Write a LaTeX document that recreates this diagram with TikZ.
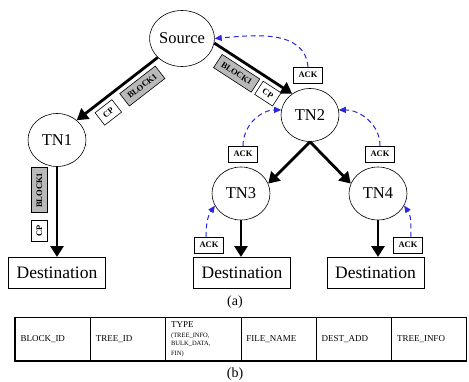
\documentclass[tikz,border=0pt]{standalone}
\usepackage{fontspec}
\setmainfont{Liberation Serif}
\usetikzlibrary{shapes.geometric,arrows.meta,positioning}
\definecolor{ackblue}{RGB}{40,40,220}

\begin{document}
\begin{tikzpicture}[x=1pt, y=1pt,
    tn/.style={ellipse, draw, line width=0.6pt, minimum width=58pt, minimum height=53pt, inner sep=0pt, font=\fontsize{16.5}{18}\selectfont},
    dest/.style={draw, line width=0.6pt, minimum width=97pt, minimum height=31pt, font=\fontsize{17.5}{19}\selectfont},
    tag/.style={draw, line width=0.6pt, fill=white, inner xsep=5pt, inner ysep=5pt, font=\bfseries\fontsize{8.5}{9}\selectfont},
    blk/.style={tag, fill=gray!55},
    flow/.style={line width=2.8pt, -{Triangle[length=11pt, width=13pt]}},
    ack/.style={ackblue, line width=1pt, dash pattern=on 5pt off 3.5pt, -{Triangle[length=7pt, width=6pt]}},
    cell/.style={draw, line width=0.8pt, outer sep=0pt, minimum width=75.3pt, minimum height=43.3pt, text width=64.3pt, inner xsep=5.5pt, inner ysep=1pt, align=left, font=\fontsize{9}{10}\selectfont}
]
    \useasboundingbox (0,0) rectangle (469,381);

    % tree
    \node[tn, minimum width=59pt, minimum height=56pt] (src) at (182,342.5) {Source};
    \foreach \i/\x/\y in {1/57/241, 2/310/266, 3/241/187.5, 4/378/187.5}
        \node[tn] (tn\i) at (\x,\y) {TN\i};
    \foreach \i/\x in {1/57, 2/242, 3/375.5}
        \node[dest] (d\i) at (\x,108.2) {Destination};

    \draw[flow] (src.218) -- (tn1.45)
        node[blk, sloped, below=5pt, pos=0.29] (blk1) {BLOCK1}
        node[tag, sloped, below=5pt, pos=0.71] (cp1) {CP};
    \draw[flow] (src.-8) -- (tn2.130)
        node[blk, sloped, below=5pt, pos=0.38] (blk2) {BLOCK1}
        node[tag, sloped, below=5pt, pos=0.78] (cp2) {CP};
    \draw[flow] (tn2.south) -- (tn3.20);
    \draw[flow] (tn2.south) -- (tn4.160);
    \draw[flow] (tn1) -- (tn1 |- d1.north)
        node[blk, pos=0.26, xshift=-9.5pt, rotate=90, anchor=south] (blk3) {BLOCK1}
        node[tag, pos=0.71, xshift=-9.5pt, rotate=90, anchor=south] (cp3) {CP};
    \draw[flow] (tn3) -- (tn3 |- d2.north);
    \draw[flow] (tn4) -- (tn4 |- d3.north);

    % acknowledgements
    \node[tag] (ack0) at (308,306) {ACK};
    \node[tag] (ack1) at (243,227) {ACK};
    \node[tag] (ack2) at (380,227) {ACK};
    \node[tag] (ack3) at (209,136) {ACK};
    \node[tag] (ack4) at (408,136) {ACK};

    \draw[ack] (ack0.north) to[out=95, in=5] (src.east);
    \draw[ack] (ack1.north) to[out=90, in=180] (tn2.170);
    \draw[ack] (ack2.north) to[out=90, in=0] (tn2.10);
    \draw[ack] (ack3.110) to[out=90, in=235] (tn3.205);
    \draw[ack] (ack4.70) to[out=90, in=-55] (tn4.-25);

    \node[font=\fontsize{14}{16}\selectfont] (capa) at (235,78.5) {(a)};

    % packet header
    \node[cell] (f1) at (52.65,41.6) {BLOCK\_ID};
    \node[cell, right=0pt of f1] (f2) {TREE\_ID};
    \node[cell, right=0pt of f2] (f3) {TYPE\\[1pt] \fontsize{6.5}{8.5}\selectfont (TREE\_INFO,\\ BULK\_DATA,\\ FIN)};
    \node[cell, right=0pt of f3] (f4) {FILE\_NAME};
    \node[cell, right=0pt of f4] (f5) {DEST\_ADD};
    \node[cell, right=0pt of f5] (f6) {TREE\_INFO};
    \draw[line width=1.2pt] (f1.north west) rectangle (f6.south east);

    \node[font=\fontsize{14}{16}\selectfont] (capb) at (235,7) {(b)};
\end{tikzpicture}
\end{document}
